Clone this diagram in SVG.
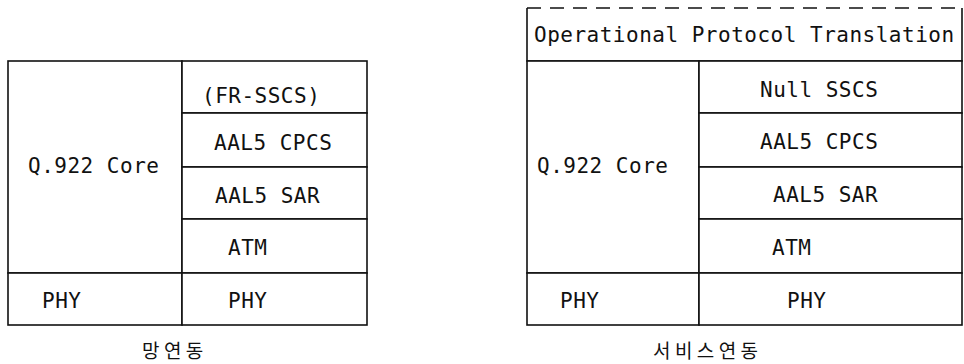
<svg xmlns="http://www.w3.org/2000/svg" width="964" height="364" viewBox="0 0 964 364">
<style>
.cell{fill:#fff;stroke:#111;stroke-width:1.6}
.t{font-family:"DejaVu Sans Mono","Liberation Mono",monospace;font-size:21px;letter-spacing:0.5px;fill:#111}
.k{font-family:"Noto Sans CJK KR",sans-serif;font-size:19px;letter-spacing:4.4px;fill:#111}
.dash{fill:none;stroke:#111;stroke-width:1.6;stroke-dasharray:14 9}
.solid{fill:none;stroke:#111;stroke-width:1.6}
</style>
<rect width="964" height="364" fill="#fff"/>
<g id="left-stack">
  <g id="l-q922"><rect class="cell" x="8" y="61" width="174" height="212"/><text class="t" x="28" y="173">Q.922 Core</text></g>
  <g id="l-frsscs"><rect class="cell" x="182" y="61" width="185" height="52"/><text class="t" x="202" y="103">(FR-SSCS)</text></g>
  <g id="l-cpcs"><rect class="cell" x="182" y="113" width="185" height="54"/><text class="t" x="214" y="150">AAL5 CPCS</text></g>
  <g id="l-sar"><rect class="cell" x="182" y="167" width="185" height="52"/><text class="t" x="215" y="203">AAL5 SAR</text></g>
  <g id="l-atm"><rect class="cell" x="182" y="219" width="185" height="54"/><text class="t" x="228" y="255">ATM</text></g>
  <g id="l-phy1"><rect class="cell" x="8" y="273" width="174" height="52"/><text class="t" x="42" y="308">PHY</text></g>
  <g id="l-phy2"><rect class="cell" x="182" y="273" width="185" height="52"/><text class="t" x="228" y="308">PHY</text></g>
  <g id="l-label"><text class="k" x="142" y="358">망연동</text></g>
</g>
<g id="right-stack">
  <g id="r-opt">
    <path class="dash" d="M527 8 H962"/>
    <path class="solid" d="M527 8 V61 H962 V8"/>
    <text class="t" x="534" y="42">Operational Protocol Translation</text>
  </g>
  <g id="r-q922"><rect class="cell" x="527" y="61" width="172" height="212"/><text class="t" x="537" y="173">Q.922 Core</text></g>
  <g id="r-null"><rect class="cell" x="699" y="61" width="263" height="52"/><text class="t" x="760" y="97">Null SSCS</text></g>
  <g id="r-cpcs"><rect class="cell" x="699" y="113" width="263" height="54"/><text class="t" x="760" y="149">AAL5 CPCS</text></g>
  <g id="r-sar"><rect class="cell" x="699" y="167" width="263" height="52"/><text class="t" x="773" y="202">AAL5 SAR</text></g>
  <g id="r-atm"><rect class="cell" x="699" y="219" width="263" height="54"/><text class="t" x="772" y="255">ATM</text></g>
  <g id="r-phy1"><rect class="cell" x="527" y="273" width="172" height="52"/><text class="t" x="560" y="308">PHY</text></g>
  <g id="r-phy2"><rect class="cell" x="699" y="273" width="263" height="52"/><text class="t" x="787" y="308">PHY</text></g>
  <g id="r-label"><text class="k" x="653" y="358">서비스연동</text></g>
</g>
<g id="connectors"/>
</svg>
